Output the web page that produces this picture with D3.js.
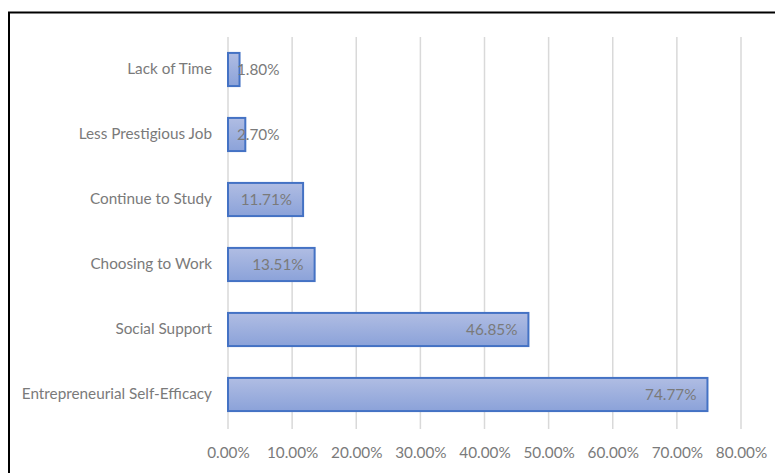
<!DOCTYPE html>
<html>
<head>
<meta charset="utf-8">
<script src="https://cdn.jsdelivr.net/npm/d3@7"></script>
<style>
  html, body { margin: 0; padding: 0; background: #fff; }
  svg { display: block; }
  text { font-family: Lato, "Open Sans", sans-serif; }
</style>
</head>
<body>
<svg id="chart" width="775" height="473"></svg>
<script>
// Reasons, top to bottom
const categories = [
  "Lack of Time",
  "Less Prestigious Job",
  "Continue to Study",
  "Choosing to Work",
  "Social Support",
  "Entrepreneurial Self-Efficacy"
];
// Share of respondents (%)
const values = [1.80, 2.70, 11.71, 13.51, 46.85, 74.77];
// X-axis ticks (%)
const ticks = [0, 10, 20, 30, 40, 50, 60, 70, 80];

const svg = d3.select("#chart");
const margin = { top: 37, right: 34, bottom: 46, left: 228 };
const W = 775, H = 473;
const FONT = "15.3px";

const x = d3.scaleLinear().domain([0, 80]).range([margin.left, W - margin.right]);
const y = d3.scaleBand().domain(categories)
  .range([margin.top, H - margin.bottom]).paddingInner(0.49).paddingOuter(0.245);

// Frame around the chart
svg.append("rect")
  .attr("x", 9).attr("y", 12.5)
  .attr("width", 800).attr("height", 500)
  .attr("fill", "none").attr("stroke", "#000").attr("stroke-width", 2);

const defs = svg.append("defs");
const grad = defs.append("linearGradient").attr("id", "barFill")
  .attr("x1", 0).attr("y1", 0).attr("x2", 0).attr("y2", 1);
grad.append("stop").attr("offset", "0%").attr("stop-color", "#b0bde3");
grad.append("stop").attr("offset", "100%").attr("stop-color", "#8ba2d9");

// Vertical gridlines
svg.append("g").selectAll("line").data(ticks).join("line")
  .attr("x1", d => x(d)).attr("x2", d => x(d))
  .attr("y1", margin.top).attr("y2", H - margin.bottom + 2)
  .attr("stroke", "#d9d9d9").attr("stroke-width", 1.5);

// Tick labels
const xAxis = d3.axisBottom(x).tickValues(ticks)
  .tickFormat(d => d3.format(".2f")(d) + "%").tickSize(0).tickPadding(0);
const gx = svg.append("g").attr("transform", `translate(0,${H - 20})`).call(xAxis);
gx.select(".domain").remove();
gx.selectAll("text").attr("dy", "0.32em").attr("y", 0)
  .attr("fill", "#7a7a7a").style("font-size", FONT).style("font-family", "Lato, sans-serif");

// Category labels
const yAxis = d3.axisLeft(y).tickSize(0).tickPadding(16);
const gy = svg.append("g").attr("transform", `translate(${margin.left},0)`).call(yAxis);
gy.select(".domain").remove();
gy.selectAll("text").attr("fill", "#7a7a7a").style("font-size", FONT)
  .style("font-family", "Lato, sans-serif");

// Bars
svg.append("g").selectAll("rect").data(values).join("rect")
  .attr("x", x(0))
  .attr("y", (d, i) => y(categories[i]))
  .attr("width", d => x(d) - x(0))
  .attr("height", y.bandwidth())
  .attr("fill", "url(#barFill)")
  .attr("stroke", "#4472c4").attr("stroke-width", 2);

// Value labels at the inside end of each bar
const labels = svg.append("g").selectAll("text").data(values).join("text")
  .attr("y", (d, i) => y(categories[i]) + y.bandwidth() / 2)
  .attr("dy", "0.35em")
  .attr("text-anchor", "end")
  .attr("fill", "#7a7a7a")
  .style("font-size", FONT)
  .text(d => d3.format(".2f")(d) + "%");
labels.attr("x", function(d) {
  const w = this.getComputedTextLength();
  return Math.max(x(d) - 11, x(0) + 9 + w);
});
</script>
</body>
</html>
